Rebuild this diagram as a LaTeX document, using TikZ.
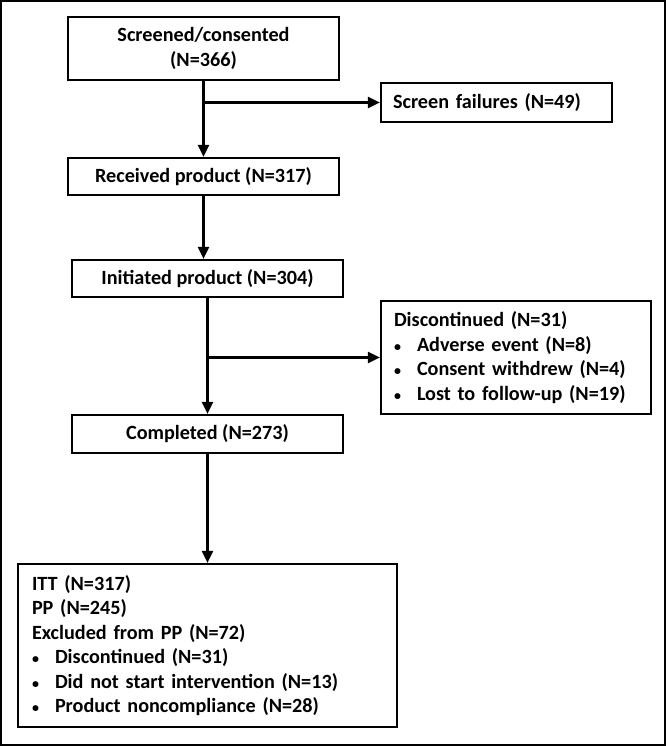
\documentclass[tikz,border=0pt]{standalone}
\usepackage{fontspec}
\setmainfont{Carlito}
\usepackage{tikz}
\usetikzlibrary{arrows.meta}
\tikzset{arr/.style={-{Triangle[length=12pt,width=11pt]}}}
\newcommand{\bul}{\makebox[23pt][l]{\fontsize{14}{14}\selectfont\textbullet}}

\begin{document}
\begin{tikzpicture}[x=1pt,y=-1pt,line width=2.2pt,font=\bfseries\fontsize{20.2}{24.5}\selectfont]
	\useasboundingbox (0,0) rectangle (668,746);
	\draw (1,1) rectangle (665,745);
	\node[draw,inner sep=0pt,minimum width=271pt,minimum height=63pt,align=center] (screened) at (203.5,48.5) {Screened/consented\\(N=366)};
	\node[draw,inner xsep=12pt,inner ysep=0pt,text width=207pt,minimum height=39pt,align=left] (failures) at (496.5,102.5) {Screen failures (N=49)};
	\node[draw,inner sep=0pt,minimum width=271pt,minimum height=37pt] (received) at (203.5,176.5) {Received product (N=317)};
	\node[draw,inner sep=0pt,minimum width=271pt,minimum height=37pt] (initiated) at (207.5,278.5) {Initiated product (N=304)};
	\node[draw,inner xsep=13pt,inner ysep=0pt,text width=244pt,minimum height=113pt,align=left] (discont) at (516,357.5) {Discontinued (N=31)\\\bul Adverse event (N=8)\\\bul Consent withdrew (N=4)\\\bul Lost to follow-up (N=19)};
	\node[draw,inner sep=0pt,minimum width=271pt,minimum height=38pt] (completed) at (207.5,434) {Completed (N=273)};
	\node[draw,inner xsep=14pt,inner ysep=0pt,text width=351pt,minimum height=163pt,align=left] (analysis) at (207.5,645.5) {ITT (N=317)\\PP (N=245)\\Excluded from PP (N=72)\\\bul Discontinued (N=31)\\\bul Did not start intervention (N=13)\\\bul Product noncompliance (N=28)};
	\draw[arr] (screened) -- (received);
	\draw[arr] (screened.south |- failures.west) -- (failures.west);
	\draw[arr] (received) -- (received.south |- initiated.north);
	\draw[arr] (initiated) -- (completed);
	\draw[arr] (initiated.south |- discont.west) -- (discont.west);
	\draw[arr] (completed) -- (analysis);
\end{tikzpicture}
\end{document}
